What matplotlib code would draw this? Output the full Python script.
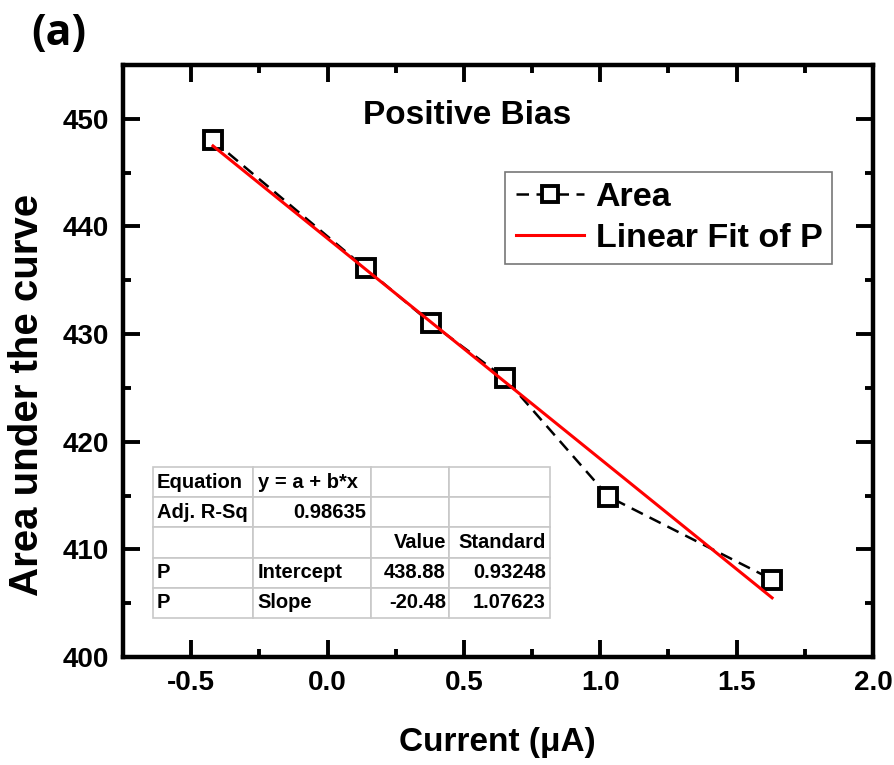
import matplotlib
matplotlib.use('Agg')
import matplotlib.pyplot as plt
from matplotlib.ticker import MultipleLocator, FormatStrFormatter
import numpy as np

# data
current = [-0.42, 0.14, 0.38, 0.65, 1.03, 1.63]
area = [448.0, 436.1, 431.0, 425.9, 414.9, 407.2]
intercept = 438.88
slope = -20.48

table_rows = [
    ['Equation', 'y = a + b*x', '', ''],
    ['Adj. R-Sq', '0.98635', '', ''],
    ['', '', 'Value', 'Standard'],
    ['P', 'Intercept', '438.88', '0.93248'],
    ['P', 'Slope', '-20.48', '1.07623'],
]

plt.rcParams['font.family'] = ['Liberation Sans', 'DejaVu Sans']
plt.rcParams['font.weight'] = 'bold'

W, H = 895, 765
fig = plt.figure(figsize=(W / 100, H / 100), dpi=100)
# axes box: x 123..873 px, y 65..657 px
ax = fig.add_axes([123 / W, (H - 657) / H, 750 / W, 592 / H])

ax.plot(current, area, color='black', ls='--', lw=1.8, dashes=(5, 3),
        marker='s', ms=13.5, mfc='white', mec='black', mew=2.8,
        label='Area', zorder=3)
xfit = np.array([current[0], current[-1]])
ax.plot(xfit, intercept + slope * xfit, color='red', lw=2.2,
        label='Linear Fit of P', zorder=4)

ax.set_xlim(-0.75, 2.0)
ax.set_ylim(400, 455)
ax.xaxis.set_major_locator(MultipleLocator(0.5))
ax.xaxis.set_minor_locator(MultipleLocator(0.25))
ax.yaxis.set_major_locator(MultipleLocator(10))
ax.yaxis.set_minor_locator(MultipleLocator(5))
ax.xaxis.set_major_formatter(FormatStrFormatter('%.1f'))
ax.tick_params(which='both', direction='in', top=True, right=True, width=2.8)
ax.tick_params(which='major', length=12, labelsize=20)
ax.tick_params(which='minor', length=6)
ax.tick_params(axis='x', which='major', pad=9)
ax.tick_params(axis='y', which='major', pad=10)
for s in ax.spines.values():
    s.set_linewidth(3.2)
for lab in ax.get_xticklabels() + ax.get_yticklabels():
    lab.set_fontweight('bold')

fig.text(497 / W, 1 - 743 / H, 'Current (\u03bcA)', fontsize=24,
         fontweight='bold', ha='center', va='center')
fig.text(27 / W, 1 - 395 / H, 'Area under the curve', fontsize=29,
         fontweight='bold', ha='center', va='center', rotation=90)

ax.text(0.459, 0.9155, 'Positive Bias', transform=ax.transAxes, fontsize=24,
        fontweight='bold', ha='center', va='center')

leg = ax.legend(loc='upper right', bbox_to_anchor=(0.946, 0.82), fontsize=24.5,
                frameon=True, fancybox=False, edgecolor='#555555',
                handlelength=2.0, handletextpad=0.35, borderpad=0.3,
                labelspacing=0.3, borderaxespad=0, markerscale=0.85)
leg.get_frame().set_linewidth(1.2)
for t in leg.get_texts():
    t.set_fontweight('bold')

# fit result table
tb = ax.table(cellText=table_rows, cellLoc='right',
              colWidths=[100, 118, 78, 101],
              bbox=[30 / 750, 39 / 592, 397 / 750, 151 / 592])
tb.auto_set_font_size(False)
for (r, c), cell in tb.get_celld().items():
    cell.set_edgecolor('#c8c8c8')
    cell.set_linewidth(1.2)
    cell.set_facecolor('white')
    txt = cell.get_text()
    txt.set_fontsize(14.5)
    txt.set_fontweight('bold')
    if c == 0 or (c == 1 and r != 1):
        txt.set_ha('left')
        cell._loc = 'left'
    cell.PAD = 0.04
tb.set_zorder(5)

fig.text(31 / W, 1 - 34 / H, '(a)', fontsize=31, fontweight='bold',
         family=['Open Sans', 'DejaVu Sans'], va='center')

fig.savefig('out.png', dpi=100)
